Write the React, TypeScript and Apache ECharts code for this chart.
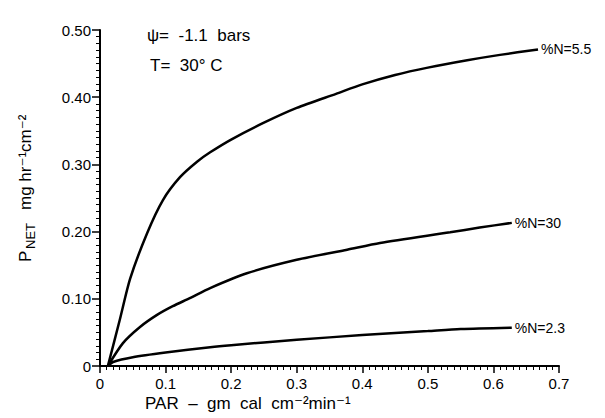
import React, { useEffect, useRef } from "react";
import * as echarts from "echarts";

const xTicks = [0, 0.1, 0.2, 0.3, 0.4, 0.5, 0.6, 0.7];
const yTicks = [0, 0.1, 0.2, 0.3, 0.4, 0.5];
const minorPerMajor = 10;

const seriesNames = ["%N=5.5", "%N=30", "%N=2.3"];

const curveN55: [number, number][] = [
  [0.012, 0], [0.03, 0.068], [0.046, 0.13], [0.072, 0.198], [0.096, 0.247],
  [0.122, 0.281], [0.148, 0.304], [0.168, 0.318], [0.2, 0.337], [0.25, 0.362],
  [0.3, 0.384], [0.36, 0.405], [0.4, 0.419], [0.45, 0.433], [0.5, 0.444],
  [0.56, 0.455], [0.61, 0.463], [0.668, 0.471],
];
const curveN30: [number, number][] = [
  [0.012, 0], [0.035, 0.034], [0.061, 0.058], [0.087, 0.076], [0.111, 0.089],
  [0.137, 0.101], [0.168, 0.116], [0.224, 0.138], [0.3, 0.158], [0.377, 0.173],
  [0.427, 0.183], [0.534, 0.199], [0.579, 0.206], [0.628, 0.213],
];
const curveN23: [number, number][] = [
  [0.012, 0], [0.02, 0.006], [0.05, 0.013], [0.1, 0.02], [0.168, 0.028],
  [0.2, 0.031], [0.3, 0.039], [0.4, 0.046], [0.5, 0.052], [0.55, 0.055],
  [0.628, 0.057],
];
const curves = [curveN55, curveN30, curveN23];

const FONT = "Liberation Sans, DejaVu Sans, sans-serif";

export default function App() {
  const ref = useRef<HTMLDivElement>(null);
  useEffect(() => {
    if (!ref.current) return;
    const chart = echarts.init(ref.current, undefined, { renderer: "svg" });

    const axisCommon = (tickLen: number) => ({
      axisLine: { show: true, lineStyle: { color: "#000", width: 2 } },
      axisTick: { show: true, length: tickLen, lineStyle: { color: "#000", width: 1.5 } },
      minorTick: { show: true, splitNumber: minorPerMajor, length: 4, lineStyle: { color: "#000", width: 1 } },
      splitLine: { show: false },
    });

    chart.setOption({
      animation: false,
      grid: { left: 100, right: 46, top: 30, bottom: 52 },
      xAxis: {
        type: "value",
        min: xTicks[0],
        max: xTicks[xTicks.length - 1],
        interval: 0.1,
        ...axisCommon(7),
        axisLabel: {
          color: "#000",
          fontSize: 15,
          fontFamily: FONT,
          margin: 10,
          formatter: (v: number) => (v === 0 ? "0" : v.toFixed(1)),
        },
      },
      yAxis: {
        type: "value",
        min: yTicks[0],
        max: yTicks[yTicks.length - 1],
        interval: 0.1,
        ...axisCommon(8),
        axisLabel: {
          color: "#000",
          fontSize: 15,
          fontFamily: FONT,
          margin: 9,
          formatter: (v: number) => (v === 0 ? "0" : v.toFixed(2)),
        },
      },
      series: curves.map((data, i) => ({
        type: "line",
        name: seriesNames[i],
        data,
        smooth: 0.25,
        clip: false,
        showSymbol: false,
        lineStyle: { color: "#000", width: 2.5 },
      })),
    });

    const txt = (text: string, x: number, y: number, size: number, extra: any = {}) => ({
      type: "text",
      x,
      y,
      silent: true,
      style: { text, fill: "#000", fontSize: size, fontFamily: FONT, ...extra },
    });

    const graphics: any[] = [
      txt("ψ=  -1.1  bars", 147, 27, 17),
      txt("T=  30° C", 150, 57, 17),
      txt("PAR  –  gm  cal  cm⁻²min⁻¹", 145, 395, 17),
      // rotated y-axis title, built from plain text pieces reading upward
      { ...txt("P", 25, 262, 17, { align: "left", verticalAlign: "middle" }), rotation: Math.PI / 2 },
      { ...txt("NET", 30, 249, 13, { align: "left", verticalAlign: "middle" }), rotation: Math.PI / 2 },
      { ...txt("mg hr⁻¹cm⁻²", 25, 210, 17, { align: "left", verticalAlign: "middle" }), rotation: Math.PI / 2 },
    ];

    curves.forEach((data, i) => {
      const last = data[data.length - 1];
      const p = chart.convertToPixel({ gridIndex: 0 }, last) as number[];
      graphics.push(txt(seriesNames[i], p[0] + 3, p[1], 14, { align: "left", verticalAlign: "middle" }));
    });

    chart.setOption({ graphic: graphics });

    return () => chart.dispose();
  }, []);
  return (
    <div
      ref={ref}
      style={{ position: "fixed", left: 0, top: 0, width: 605, height: 418, background: "#fff" }}
    />
  );
}
